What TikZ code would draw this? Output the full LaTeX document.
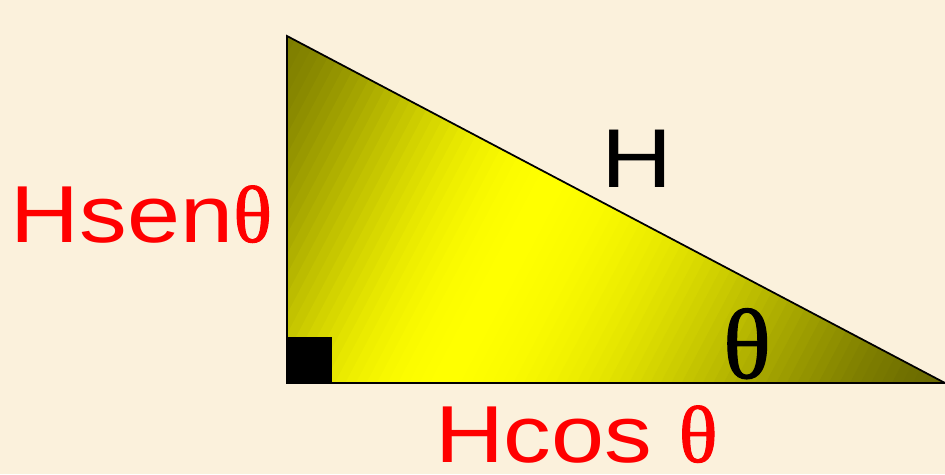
\documentclass[tikz,border=0pt]{standalone}
\usepackage{fontspec}
\setmainfont{Liberation Sans}[FakeStretch=1.18]
\newfontfamily\thetafont{Liberation Serif}[FakeBold=1.2]
\definecolor{parchment}{RGB}{251,241,220}
\definecolor{topolive}{RGB}{125,125,0}
\definecolor{tipolive}{RGB}{105,105,0}
\definecolor{brightyellow}{RGB}{255,255,0}
\tikzset{
  leglabel/.style={outer sep=0, inner sep=0, text=red, text depth=0pt, font=\fontsize{46}{52}\selectfont},
  hyplabel/.style={outer sep=0, inner sep=0, text=black},
}
\begin{document}
\begin{tikzpicture}[x=0.02cm, y=0.02cm]
        \useasboundingbox (0,0) rectangle (945,474);
        \fill[parchment] (0,0) rectangle (945,474);
        \coordinate (top) at (287,438);
        \coordinate (corner) at (287,91);
        \coordinate (tip) at (945,91);
        % gradient along the hypotenuse, in strips
        \begin{scope}
          \clip (top) -- (corner) -- (tip) -- cycle;
          \fill[topolive] (0,0) rectangle (945,474);
          \begin{scope}[shift={(top)}, rotate=-27.8]
            \foreach \i in {0,...,79} {
              \pgfmathsetmacro{\t}{(\i+0.5)/80}
              \pgfmathsetmacro{\u}{min(\t/0.4, (1-\t)/0.6)}
              \pgfmathsetmacro{\p}{100*sin(90*\u)^1.5}
              \ifdim\t pt<0.4pt
                \fill[brightyellow!\p!topolive] (\i*9.3-0.5,-400) rectangle (\i*9.3+9.8,20);
              \else
                \fill[brightyellow!\p!tipolive] (\i*9.3-0.5,-400) rectangle (\i*9.3+9.8,20);
              \fi
            }
          \end{scope}
        \end{scope}
        \draw[line width=1pt, line join=miter] (top) -- (corner) -- (tip) -- cycle;
        \node[anchor=south west, outer sep=0, inner sep=0, fill=black, minimum width=45*0.02cm, minimum height=46*0.02cm] (rightangle) at (corner) {};
        % labels
        \node[leglabel, anchor=base east] (opposite) at (272,232) {Hsen{\thetafont θ}};
        \node[leglabel, anchor=base west] (adjacent) at (435,12) {Hcos {\thetafont θ}};
        \node[hyplabel, anchor=base, font=\fontsize{47.5}{55}\selectfont] (hyp) at (637,287) {H};
        \node[hyplabel, anchor=base, font=\thetafont\fontsize{56.7}{60}\selectfont] (angle) at (747,96) {θ};
      \end{tikzpicture}
\end{document}
